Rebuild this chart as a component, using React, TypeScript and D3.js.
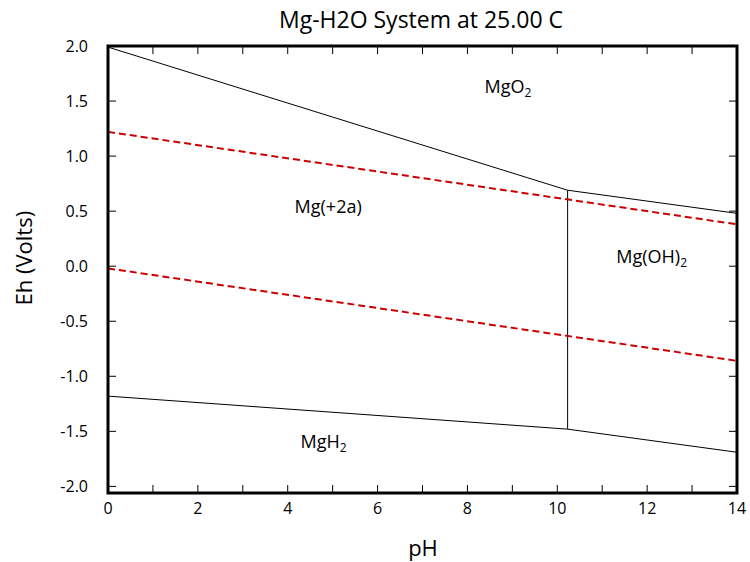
import React from "react";
import * as d3 from "d3";

const title = "Mg-H2O System at 25.00 C";
const xTicksMajor = [0, 2, 4, 6, 8, 10, 12, 14];
const xTicksAll = d3.range(0, 15, 1);
const yTicks = [-2.0, -1.5, -1.0, -0.5, 0.0, 0.5, 1.0, 1.5, 2.0];

// boundary lines [pH, Eh]
const upperBoundary: [number, number][] = [[0, 1.99], [10.23, 0.69], [14, 0.48]];
const verticalBoundary: [number, number][] = [[10.23, 0.69], [10.23, -1.48]];
const lowerBoundary: [number, number][] = [[0, -1.18], [10.23, -1.48], [14, -1.69]];
const o2Line: [number, number][] = [[0, 1.22], [14, 0.38]];
const h2Line: [number, number][] = [[0, -0.02], [14, -0.86]];

const regionLabels = [
  { main: "MgO", sub: "2", pH: 8.9, Eh: 1.63 },
  { main: "Mg(+2a)", sub: "", pH: 4.9, Eh: 0.54 },
  { main: "Mg(OH)", sub: "2", pH: 12.1, Eh: 0.08 },
  { main: "MgH", sub: "2", pH: 4.8, Eh: -1.6 },
];

export default function App() {
  const W = 750, H = 562;
  const x = d3.scaleLinear().domain([0, 14]).range([108, 737]);
  const y = d3.scaleLinear().domain([-2.06, 2.0]).range([493, 46]);
  const line = d3.line<[number, number]>().x(d => x(d[0])).y(d => y(d[1]));
  const font = "'Open Sans', 'Noto Sans', sans-serif";
  const tl = 8;
  return (
    <svg width={W} height={H} style={{ position: "absolute", left: 0, top: 0 }} fontFamily={font}>
      <rect width={W} height={H} fill="#fff" />
      <text x={421} y={28} textAnchor="middle" fontSize={23} fill="#000">{title}</text>
      {/* data lines */}
      <path d={line(upperBoundary)!} fill="none" stroke="#000" strokeWidth={1} />
      <path d={line(verticalBoundary)!} fill="none" stroke="#000" strokeWidth={1} />
      <path d={line(lowerBoundary)!} fill="none" stroke="#000" strokeWidth={1} />
      <path d={line(o2Line)!} fill="none" stroke="#cc0000" strokeWidth={2} strokeDasharray="7,4" />
      <path d={line(h2Line)!} fill="none" stroke="#cc0000" strokeWidth={2} strokeDasharray="7,4" />
      {/* ticks */}
      {xTicksAll.map(t => (
        <g key={"xt" + t}>
          <line x1={x(t)} x2={x(t)} y1={493} y2={493 - tl} stroke="#000" strokeWidth={1} />
          <line x1={x(t)} x2={x(t)} y1={46} y2={46 + tl} stroke="#000" strokeWidth={1} />
        </g>
      ))}
      {yTicks.map(t => (
        <g key={"yt" + t}>
          <line x1={108} x2={108 + tl} y1={y(t)} y2={y(t)} stroke="#000" strokeWidth={1} />
          <line x1={737} x2={737 - tl} y1={y(t)} y2={y(t)} stroke="#000" strokeWidth={1} />
        </g>
      ))}
      {/* frame */}
      <rect x={108} y={46} width={629} height={447} fill="none" stroke="#000" strokeWidth={3} />
      {/* tick labels */}
      {xTicksMajor.map(t => (
        <text key={"xl" + t} x={x(t)} y={514} textAnchor="middle" fontSize={16} fill="#000">{t}</text>
      ))}
      {yTicks.map(t => (
        <text key={"yl" + t} x={88} y={y(t) + 6} textAnchor="end" fontSize={16} fill="#000">{t.toFixed(1)}</text>
      ))}
      {/* axis titles */}
      <text x={423} y={556} textAnchor="middle" fontSize={22} fill="#000">pH</text>
      <text transform={`translate(32,${y(0) - 8}) rotate(-90)`} textAnchor="middle" fontSize={22} fill="#000">Eh (Volts)</text>
      {/* region labels */}
      {regionLabels.map(r => (
        <text key={r.main} x={x(r.pH)} y={y(r.Eh) + 6} textAnchor="middle" fontSize={18} fill="#000">
          {r.main}
          {r.sub && <tspan fontSize={12} dy={4}>{r.sub}</tspan>}
        </text>
      ))}
    </svg>
  );
}
